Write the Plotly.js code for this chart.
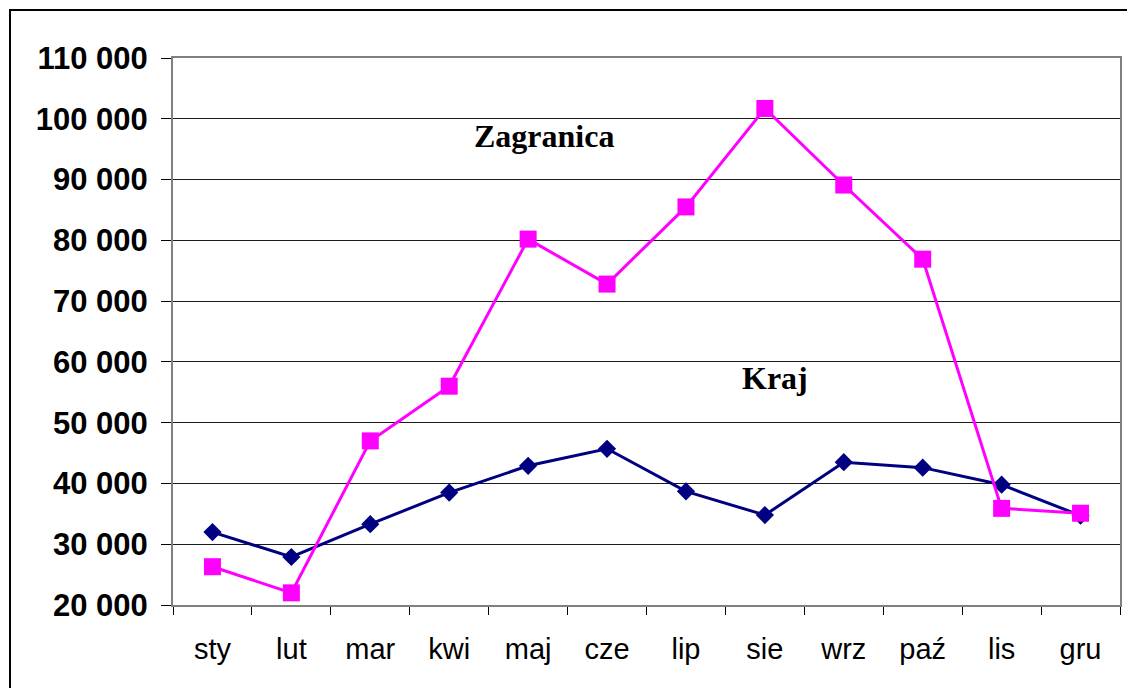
<!DOCTYPE html>
<html>
<head>
<meta charset="utf-8">
<script src="https://cdn.plot.ly/plotly-3.0.1.min.js"></script>
<style>
html,body{margin:0;padding:0;background:#fff;}
#chart{width:1127px;height:688px;}
</style>
</head>
<body>
<div id="chart"></div>
<script>
var months = ["sty","lut","mar","kwi","maj","cze","lip","sie","wrz","paź","lis","gru"];
var kraj = [32000, 27900, 33300, 38500, 42900, 45700, 38700, 34800, 43500, 42600, 39800, 34700];
var zagranica = [26300, 22000, 47000, 56000, 80200, 72800, 85500, 101700, 89100, 76900, 35900, 35100];
var yTickVals = [20000,30000,40000,50000,60000,70000,80000,90000,100000,110000];
var yTickText = ["20 000","30 000","40 000","50 000","60 000","70 000","80 000","90 000","100 000","110 000"];

var L = 173, R = 1120, T = 58, B = 605;
var W = R - L, H = B - T;
function px(x){ return (x - L) / W; }
function py(y){ return (B - y) / H; }

var traces = [
  {
    x: months, y: kraj, name: "Kraj", type: "scatter", mode: "lines+markers",
    line: {color: "#000080", width: 3},
    marker: {symbol: "diamond", size: 14, color: "#000080"}
  },
  {
    x: months, y: zagranica, name: "Zagranica", type: "scatter", mode: "lines+markers",
    line: {color: "#FF00FF", width: 3},
    marker: {symbol: "square", size: 17, color: "#FF00FF"}
  }
];

var layout = {
  width: 1127, height: 688,
  margin: {l: L, r: 1127 - R, t: T, b: 688 - B},
  paper_bgcolor: "#ffffff", plot_bgcolor: "#ffffff",
  showlegend: false,
  font: {family: "Liberation Sans, Arial, sans-serif", color: "#000"},
  xaxis: {
    type: "category", range: [-0.5, 11.5],
    tickson: "boundaries", ticks: "outside", ticklen: 8, tickwidth: 1, tickcolor: "#000",
    showgrid: false, showline: true, linecolor: "#808080", linewidth: 2, mirror: true,
    tickfont: {size: 29, family: "Liberation Sans, Arial, sans-serif", color: "#000"},
    ticklabelstandoff: 17, zeroline: false
  },
  yaxis: {
    range: [20000, 110000], tickvals: yTickVals, ticktext: yTickText,
    ticks: "outside", ticklen: 10, tickwidth: 1, tickcolor: "#000",
    showgrid: true, gridcolor: "#1a1a1a", gridwidth: 1,
    showline: true, linecolor: "#808080", linewidth: 2, mirror: true,
    tickfont: {size: 31, family: "Liberation Sans, Arial, sans-serif", color: "#000", weight: "bold"},
    ticklabelstandoff: 7, zeroline: false
  },
  shapes: [
    {type: "rect", xref: "paper", yref: "paper", x0: px(10), x1: px(1200), y0: py(760), y1: py(10),
     line: {color: "#000", width: 2}, fillcolor: "rgba(0,0,0,0)", layer: "below"},
    {type: "rect", xref: "paper", yref: "paper", x0: px(455), x1: px(693), y0: py(186), y1: py(100),
     line: {width: 0}, fillcolor: "#ffffff", layer: "between"},
    {type: "rect", xref: "paper", yref: "paper", x0: px(723), x1: px(863), y0: py(405), y1: py(350),
     line: {width: 0}, fillcolor: "#ffffff", layer: "between"}
  ],
  annotations: [
    {text: "Zagranica", xref: "paper", yref: "paper", x: px(544), y: py(136),
     xanchor: "center", yanchor: "middle", showarrow: false,
     font: {family: "Liberation Serif, Times New Roman, serif", size: 32, color: "#000", weight: "bold"}},
    {text: "Kraj", xref: "paper", yref: "paper", x: px(775), y: py(378),
     xanchor: "center", yanchor: "middle", showarrow: false,
     font: {family: "Liberation Serif, Times New Roman, serif", size: 32, color: "#000", weight: "bold"}}
  ]
};

Plotly.newPlot("chart", traces, layout, {staticPlot: true, displayModeBar: false});
</script>
</body>
</html>
